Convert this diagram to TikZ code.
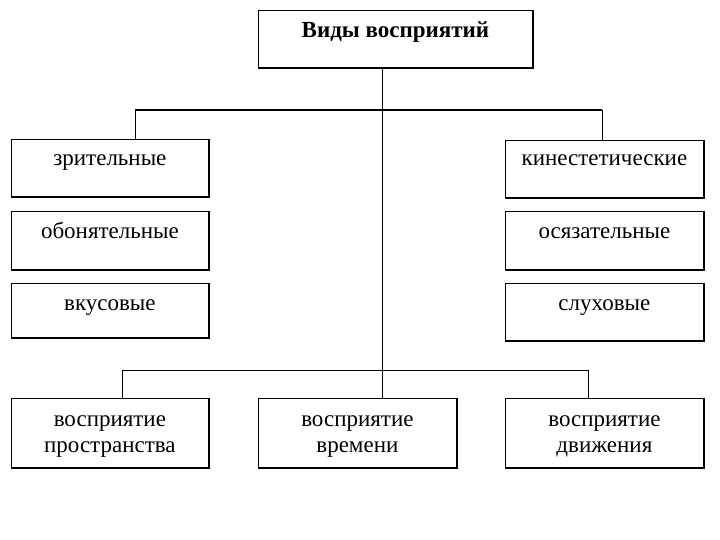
\documentclass[tikz,border=0pt]{standalone}
\usepackage{fontspec}
\setmainfont{Liberation Serif}
\begin{document}
\begin{tikzpicture}[x=1pt,y=-1pt,
  boxst/.style={draw=black, line width=0.8pt, rectangle, anchor=north west, inner sep=0pt, minimum width=#1},
  txt/.style={anchor=base, font=\fontsize{23}{26}\selectfont, inner sep=0pt},
  btxt/.style={anchor=base, font=\bfseries\fontsize{23}{26}\selectfont, inner sep=0pt},
  ln/.style={line width=0.8pt},
  thk/.style={line width=1.8pt}]
\useasboundingbox (0,0) rectangle (720,540);
% boxes
\node[boxst=274pt, minimum height=57pt] (top) at (258,10) {};
\node[boxst=197pt, minimum height=57pt] (l1) at (11,139) {};
\node[boxst=197pt, minimum height=58pt] (l2) at (11,211) {};
\node[boxst=197pt, minimum height=54pt] (l3) at (11,283) {};
\node[boxst=198pt, minimum height=57pt] (r1) at (505,140) {};
\node[boxst=198pt, minimum height=58pt] (r2) at (505,211) {};
\node[boxst=198pt, minimum height=57pt] (r3) at (505,283) {};
\node[boxst=197pt, minimum height=69pt] (b1) at (11,398) {};
\node[boxst=198pt, minimum height=69pt] (b2) at (258,398) {};
\node[boxst=198pt, minimum height=69pt] (b3) at (505,398) {};
% heavier bottom/right edges
\foreach \n in {top,l1,l2,l3,r1,r2,r3,b1,b2,b3}{
  \draw[line width=1.6pt] (\n.south west) -- (\n.south east) -- (\n.north east);
}
% texts
\node[btxt] (ttop) at ([yshift=-28pt]top.north) {Виды восприятий};
\node[txt] (tl1) at ([yshift=-27pt]l1.north) {зрительные};
\node[txt] (tl2) at ([yshift=-27pt]l2.north) {обонятельные};
\node[txt] (tl3) at ([yshift=-27pt]l3.north) {вкусовые};
\node[txt] (tr1) at ([yshift=-26pt]r1.north) {кинестетические};
\node[txt] (tr2) at ([yshift=-27pt]r2.north) {осязательные};
\node[txt] (tr3) at ([yshift=-27pt]r3.north) {слуховые};
\node[txt] (tb1a) at ([yshift=-28pt]b1.north) {восприятие};
\node[txt] (tb1b) at ([yshift=-54pt]b1.north) {пространства};
\node[txt] (tb2a) at ([yshift=-28pt]b2.north) {восприятие};
\node[txt] (tb2b) at ([yshift=-54pt]b2.north) {времени};
\node[txt] (tb3a) at ([yshift=-28pt]b3.north) {восприятие};
\node[txt] (tb3b) at ([yshift=-54pt]b3.north) {движения};
% connectors
\coordinate (vx) at (382,0);
\coordinate (ml) at (135,110);
\coordinate (mr) at (602,110);
\coordinate (bl) at (122,370);
\coordinate (br) at (588,370);
\draw[ln] (top.south -| vx) -- (b2.north -| vx);
\draw[thk] (ml) -- (mr);
\draw[ln] (ml) -- (ml |- l1.north);
\draw[ln] (mr) -- (mr |- r1.north);
\draw[ln] (bl) -- (br);
\draw[ln] (bl) -- (bl |- b1.north);
\draw[ln] (br) -- (br |- b3.north);
\end{tikzpicture}
\end{document}
